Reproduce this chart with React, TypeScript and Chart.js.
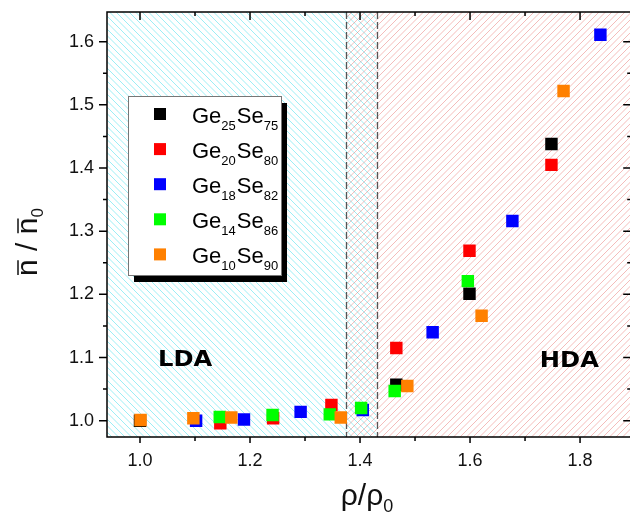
import React, { useEffect, useRef } from "react";
import { Chart, registerables } from "chart.js";
Chart.register(...registerables);

// ---- data ----
const xGe25Se75 = [1.0, 1.466, 1.599, 1.748];
const yGe25Se75 = [1.0, 1.057, 1.201, 1.438];
const xGe20Se80 = [1.146, 1.242, 1.348, 1.466, 1.599, 1.748];
const yGe20Se80 = [0.996, 1.004, 1.025, 1.115, 1.269, 1.405];
const xGe18Se82 = [1.102, 1.189, 1.292, 1.405, 1.532, 1.677, 1.837];
const yGe18Se82 = [1.0, 1.002, 1.014, 1.017, 1.14, 1.316, 1.611];
const xGe14Se86 = [1.145, 1.241, 1.345, 1.402, 1.463, 1.596];
const yGe14Se86 = [1.006, 1.009, 1.01, 1.02, 1.047, 1.221];
const xGe10Se90 = [1.001, 1.097, 1.166, 1.365, 1.486, 1.621, 1.77];
const yGe10Se90 = [1.001, 1.004, 1.005, 1.005, 1.055, 1.166, 1.522];

const geSub = ["25", "20", "18", "14", "10"];
const seSub = ["75", "80", "82", "86", "90"];
const seriesColors = ["#000000", "#ff0000", "#0000ff", "#00ff00", "#ff8000"];

const xTicks = [1.0, 1.2, 1.4, 1.6, 1.8];
const xMinorTicks = [1.1, 1.3, 1.5, 1.7];
const yTicks = [1.0, 1.1, 1.2, 1.3, 1.4, 1.5, 1.6];
const yMinorTicks = [1.05, 1.15, 1.25, 1.35, 1.45, 1.55];

const ldaEnd = 1.43;
const hdaStart = 1.375;
const regionLabels = ["LDA", "HDA"];
const regionLabelX = [1.082, 1.7805];
const regionLabelY = [1.096, 1.094];

const FONT = '"Liberation Sans", Arial, Helvetica, sans-serif';

function zip(xs: number[], ys: number[]) {
  return xs.map((x, i) => ({ x, y: ys[i] }));
}

function hatch(ctx: CanvasRenderingContext2D, x0: number, y0: number, x1: number, y1: number, dir: string, color: string, step: number) {
  ctx.save();
  ctx.beginPath();
  ctx.rect(x0, y0, x1 - x0, y1 - y0);
  ctx.clip();
  ctx.strokeStyle = color;
  ctx.lineWidth = 1;
  ctx.beginPath();
  if (dir === "\\") {
    const kStart = Math.floor((x0 - y1) / step) * step;
    for (let k = kStart; k <= x1 - y0; k += step) {
      ctx.moveTo(k + y0, y0);
      ctx.lineTo(k + y1, y1);
    }
  } else {
    const kStart = Math.floor((x0 + y0) / step) * step;
    for (let k = kStart; k <= x1 + y1; k += step) {
      ctx.moveTo(k - y0, y0);
      ctx.lineTo(k - y1, y1);
    }
  }
  ctx.stroke();
  ctx.restore();
}

const decorPlugin = {
  id: "decor",
  beforeDatasetsDraw(chart: any) {
    const { ctx, chartArea: a, scales } = chart;
    const x = scales.x;
    const y = scales.y;
    ctx.save();
    ctx.beginPath();
    ctx.rect(a.left, a.top, a.right - a.left, a.bottom - a.top);
    ctx.clip();
    const xc = x.getPixelForValue(ldaEnd);
    const xr = x.getPixelForValue(hdaStart);
    hatch(ctx, a.left, a.top, xc, a.bottom, "\\", "rgba(20, 215, 230, 0.42)", 6.5);
    hatch(ctx, xr, a.top, a.right, a.bottom, "/", "rgba(225, 80, 75, 0.38)", 6.5);
    ctx.strokeStyle = "#555";
    ctx.lineWidth = 1.3;
    ctx.setLineDash([7, 3]);
    [hdaStart, ldaEnd].forEach((v) => {
      const px = Math.round(x.getPixelForValue(v)) + 0.5;
      ctx.beginPath();
      ctx.moveTo(px, a.top);
      ctx.lineTo(px, a.bottom);
      ctx.stroke();
    });
    ctx.setLineDash([]);
    ctx.fillStyle = "#000";
    ctx.font = 'bold 22px "DejaVu Sans", Verdana, sans-serif';
    ctx.textAlign = "center";
    ctx.textBaseline = "middle";
    regionLabels.forEach((t, i) => {
      const px = x.getPixelForValue(regionLabelX[i]);
      const py = y.getPixelForValue(regionLabelY[i]);
      ctx.save();
      ctx.translate(px, py);
      ctx.scale(1.1, 1);
      ctx.fillText(t, 0, 0);
      ctx.restore();
    });
    ctx.restore();
  },
  afterDraw(chart: any) {
    const { ctx, chartArea: a, scales } = chart;
    const x = scales.x;
    const y = scales.y;
    ctx.save();
    ctx.strokeStyle = "#000";
    ctx.lineWidth = 1.5;
    ctx.strokeRect(a.left, a.top, a.right - a.left, a.bottom - a.top);
    ctx.lineWidth = 1.5;
    ctx.beginPath();
    const xt = (vals: number[], bLen: number, tLen: number) => {
      vals.forEach((v) => {
        const px = x.getPixelForValue(v);
        ctx.moveTo(px, a.bottom);
        ctx.lineTo(px, a.bottom + bLen);
        ctx.moveTo(px, a.top);
        ctx.lineTo(px, a.top + tLen);
      });
    };
    const yt = (vals: number[], lLen: number, rLen: number) => {
      vals.forEach((v) => {
        const py = y.getPixelForValue(v);
        ctx.moveTo(a.left - lLen, py);
        ctx.lineTo(a.left, py);
        ctx.moveTo(a.right - rLen, py);
        ctx.lineTo(a.right, py);
      });
    };
    xt(xTicks, 6, 8);
    xt(xMinorTicks, 4, 4);
    yt(yTicks, 8, 8);
    yt(yMinorTicks, 4, 4);
    ctx.stroke();

    // legend
    const bx = a.left + 21;
    const by = a.top + 84;
    const bw = 153;
    const bh = 179;
    ctx.fillStyle = "#000";
    ctx.fillRect(bx + 6, by + 7, bw, bh);
    ctx.fillStyle = "#fff";
    ctx.fillRect(bx, by, bw, bh);
    ctx.strokeStyle = "#777";
    ctx.lineWidth = 1;
    ctx.strokeRect(bx + 0.5, by + 0.5, bw, bh);
    ctx.textAlign = "left";
    ctx.textBaseline = "alphabetic";
    geSub.forEach((g, i) => {
      const ry = by + 18 + i * 35.1;
      ctx.fillStyle = seriesColors[i];
      ctx.fillRect(bx + 26, ry - 6, 12, 12);
      ctx.fillStyle = "#000";
      let tx = bx + 64;
      const base = ry + 9;
      ctx.font = `22px ${FONT}`;
      ctx.fillText("Ge", tx, base);
      tx += ctx.measureText("Ge").width;
      ctx.font = `13px ${FONT}`;
      ctx.fillText(g, tx, base + 7);
      tx += ctx.measureText(g).width + 1;
      ctx.font = `22px ${FONT}`;
      ctx.fillText("Se", tx, base);
      tx += ctx.measureText("Se").width;
      ctx.font = `13px ${FONT}`;
      ctx.fillText(seSub[i], tx, base + 7);
    });

    // x title
    ctx.fillStyle = "#111";
    ctx.font = `30px ${FONT}`;
    const mainX = "ρ/ρ";
    const wMain = ctx.measureText(mainX).width;
    ctx.font = `18px ${FONT}`;
    const wSub = ctx.measureText("0").width;
    const sx = 367 - (wMain + wSub) / 2;
    ctx.font = `30px ${FONT}`;
    ctx.fillText(mainX, sx, 505);
    ctx.font = `18px ${FONT}`;
    ctx.fillText("0", sx + wMain, 512);

    // y title (rotated)
    ctx.save();
    ctx.translate(37, 242);
    ctx.rotate(-Math.PI / 2);
    ctx.font = `30px ${FONT}`;
    const nW = ctx.measureText("n").width;
    const midT = " / ";
    const midW = ctx.measureText(midT).width;
    ctx.font = `17px ${FONT}`;
    const zW = ctx.measureText("0").width;
    const total = nW * 2 + midW + zW;
    let cx = -total / 2;
    ctx.font = `30px ${FONT}`;
    ctx.lineWidth = 1.5;
    ctx.strokeStyle = "#111";
    const bar = (x0: number) => {
      ctx.beginPath();
      ctx.moveTo(x0 + 1, -19);
      ctx.lineTo(x0 + nW - 1, -19);
      ctx.stroke();
    };
    ctx.fillText("n", cx, 0);
    bar(cx);
    cx += nW;
    ctx.fillText(midT, cx, 0);
    cx += midW;
    ctx.fillText("n", cx, 0);
    bar(cx);
    cx += nW;
    ctx.font = `17px ${FONT}`;
    ctx.fillText("0", cx, 6);
    ctx.restore();

    ctx.restore();
  },
};

export default function App() {
  const ref = useRef<HTMLCanvasElement | null>(null);
  useEffect(() => {
    if (!ref.current) return;
    const mk = (label: string, xs: number[], ys: number[], color: string, order: number) => ({
      label,
      data: zip(xs, ys),
      backgroundColor: color,
      borderColor: color,
      borderWidth: 0,
      pointStyle: "rect",
      pointRadius: 8.8,
      pointHoverRadius: 8.8,
      order,
    });
    const chart = new Chart(ref.current, {
      type: "scatter",
      data: {
        datasets: [
          mk("Ge25Se75", xGe25Se75, yGe25Se75, seriesColors[0], 4),
          mk("Ge20Se80", xGe20Se80, yGe20Se80, seriesColors[1], 3),
          mk("Ge18Se82", xGe18Se82, yGe18Se82, seriesColors[2], 2),
          mk("Ge14Se86", xGe14Se86, yGe14Se86, seriesColors[3], 1),
          mk("Ge10Se90", xGe10Se90, yGe10Se90, seriesColors[4], 0),
        ] as any,
      },
      options: {
        animation: false,
        responsive: false,
        events: [],
        layout: { padding: { left: 0, top: 12, right: 2, bottom: 0 } },
        plugins: {
          legend: { display: false },
          tooltip: { enabled: false },
        },
        scales: {
          x: {
            type: "linear",
            min: 0.94,
            max: 1.893,
            afterFit: (s: any) => {
              s.height = 79;
              s.paddingLeft = 0;
              s.paddingRight = 0;
            },
            afterBuildTicks: (s: any) => {
              s.ticks = xTicks.map((v) => ({ value: v }));
            },
            grid: { display: false, drawTicks: false },
            border: { display: false },
            ticks: {
              padding: 13,
              color: "#111",
              font: { family: FONT, size: 18 },
              maxRotation: 0,
              autoSkip: false,
              callback: (v: any) => Number(v).toFixed(1),
            },
          },
          y: {
            type: "linear",
            min: 0.9742,
            max: 1.647,
            afterFit: (s: any) => {
              s.width = 107;
              s.paddingTop = 0;
              s.paddingBottom = 0;
            },
            afterBuildTicks: (s: any) => {
              s.ticks = yTicks.map((v) => ({ value: v }));
            },
            grid: { display: false, drawTicks: false },
            border: { display: false },
            ticks: {
              padding: 13,
              color: "#111",
              font: { family: FONT, size: 18 },
              autoSkip: false,
              callback: (v: any) => Number(v).toFixed(1),
            },
          },
        },
      } as any,
      plugins: [decorPlugin],
    });
    return () => chart.destroy();
  }, []);
  return (
    <div style={{ position: "fixed", left: 0, top: 0, width: 630, height: 516, overflow: "hidden", background: "#fff" }}>
      <canvas ref={ref} width={640} height={516} style={{ display: "block" }} />
    </div>
  );
}
